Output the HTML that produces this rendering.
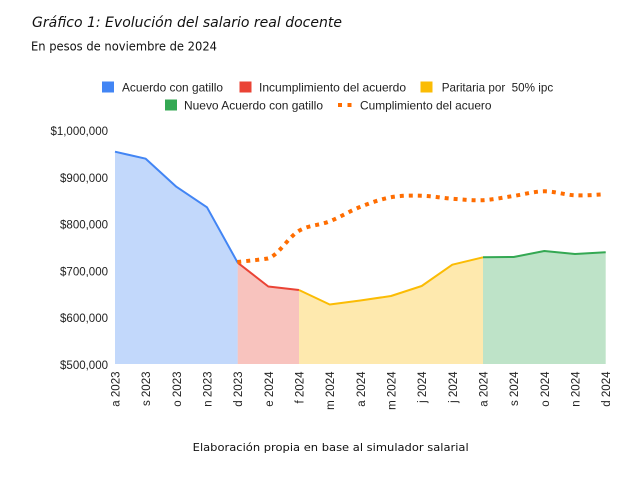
<!DOCTYPE html>
<html>
<head>
<meta charset="utf-8">
<style>
  html,body{margin:0;padding:0;background:#fff;}
  svg{display:block;}
  .ax{font-family:"Liberation Sans",Arial,sans-serif;font-size:11.5px;fill:#222;}
  .lg{font-family:"Liberation Sans",Arial,sans-serif;font-size:12px;fill:#222;}
  .dj{font-family:"DejaVu Sans","Liberation Sans",sans-serif;fill:#111;}
</style>
</head>
<body>
<svg width="636" height="498" viewBox="0 0 636 498" xmlns="http://www.w3.org/2000/svg">
  <rect x="0" y="0" width="636" height="498" fill="#fff"/>

  <!-- Title / subtitle -->
  <text class="dj" x="32" y="27" font-size="14.5" font-style="italic" textLength="310" lengthAdjust="spacingAndGlyphs">Gráfico 1: Evolución del salario real docente</text>
  <text class="dj" x="31" y="50.5" font-size="12" textLength="186" lengthAdjust="spacingAndGlyphs">En pesos de noviembre de 2024</text>

  <!-- Legend row 1 -->
  <rect x="102" y="81.5" width="12" height="11" fill="#4285f4"/>
  <text class="lg" x="122" y="91.5" textLength="101" lengthAdjust="spacingAndGlyphs">Acuerdo con gatillo</text>
  <rect x="239.5" y="81.5" width="12" height="11" fill="#ea4335"/>
  <text class="lg" x="259" y="91.5" textLength="147" lengthAdjust="spacingAndGlyphs">Incumplimiento del acuerdo</text>
  <rect x="420.5" y="81.5" width="12" height="11" fill="#fbbc04"/>
  <text class="lg" x="441.7" y="91.5" textLength="111.5" lengthAdjust="spacingAndGlyphs">Paritaria por&#160; 50% ipc</text>

  <!-- Legend row 2 -->
  <rect x="165" y="99.5" width="12" height="11" fill="#34a853"/>
  <text class="lg" x="184" y="109.5" textLength="139" lengthAdjust="spacingAndGlyphs">Nuevo Acuerdo con gatillo</text>
  <line x1="338" y1="105" x2="352" y2="105" stroke="#ff6d01" stroke-width="4" stroke-dasharray="4 5.5"/>
  <text class="lg" x="360" y="109.5" textLength="131.5" lengthAdjust="spacingAndGlyphs">Cumplimiento del acuero</text>

  <!-- Y axis labels -->
  <g class="ax" text-anchor="end">
    <text x="108" y="135">$1,000,000</text>
    <text x="108" y="182">$900,000</text>
    <text x="108" y="228.5">$800,000</text>
    <text x="108" y="275.5">$700,000</text>
    <text x="108" y="322">$600,000</text>
    <text x="108" y="369">$500,000</text>
  </g>

  <!-- Areas -->
  <path d="M115,364 L115,151.7 L145.7,158.7 L176.3,186.7 L207,207.3 L237.7,262.7 L237.7,364 Z" fill="#4285f4" fill-opacity="0.32"/>
  <path d="M237.7,364 L237.7,262.7 L268.3,286.5 L299,290 L299,364 Z" fill="#ea4335" fill-opacity="0.32"/>
  <path d="M299,364 L299,290 L329.7,304.5 L360.3,300.5 L391,296 L421.7,286 L452.3,264.7 L483,257.3 L483,364 Z" fill="#fbbc04" fill-opacity="0.32"/>
  <path d="M483,364 L483,257.3 L513.7,257 L544.3,251 L575,254 L605.7,252.3 L605.7,364 Z" fill="#34a853" fill-opacity="0.32"/>

  <!-- Lines -->
  <g fill="none" stroke-width="2" stroke-linejoin="round">
    <polyline points="115,151.7 145.7,158.7 176.3,186.7 207,207.3 237.7,262.7" stroke="#4285f4"/>
    <polyline points="237.7,262.7 268.3,286.5 299,290" stroke="#ea4335"/>
    <polyline points="299,290 329.7,304.5 360.3,300.5 391,296 421.7,286 452.3,264.7 483,257.3" stroke="#fbbc04"/>
    <polyline points="483,257.3 513.7,257 544.3,251 575,254 605.7,252.3" stroke="#34a853"/>
  </g>

  <!-- Dotted smooth line -->
  <path d="M237.3,262 C242.4,261.4 257.8,260 268,258.5
           C278.2,255.5 288.4,237.17 298.6,231
           C308.8,224.83 319.1,225.5 329.3,221.5
           C339.5,217.5 349.8,211.03 360,207
           C370.2,202.97 380.4,199.18 390.6,197.3
           C400.8,195.42 411.1,195.47 421.3,195.7
           C431.5,195.93 441.8,197.95 452,198.7
           C462.2,199.45 472.5,200.65 482.7,200.2
           C492.9,199.75 503.1,197.48 513.3,196
           C523.5,194.52 533.8,191.42 544,191.3
           C554.2,191.18 564.5,194.8 574.7,195.3
           C584.9,195.8 600.2,194.47 605.3,194.3"
        fill="none" stroke="#ff6d01" stroke-width="4" stroke-dasharray="4 5"/>

  <!-- X axis labels (rotated) -->
  <g class="ax" font-size="11" text-anchor="end">
    <text transform="translate(119.5,371.5) rotate(-90)">a 2023</text>
    <text transform="translate(150.2,371.5) rotate(-90)">s 2023</text>
    <text transform="translate(180.8,371.5) rotate(-90)">o 2023</text>
    <text transform="translate(211.5,371.5) rotate(-90)">n 2023</text>
    <text transform="translate(242.2,371.5) rotate(-90)">d 2023</text>
    <text transform="translate(272.8,371.5) rotate(-90)">e 2024</text>
    <text transform="translate(303.5,371.5) rotate(-90)">f 2024</text>
    <text transform="translate(334.2,371.5) rotate(-90)">m 2024</text>
    <text transform="translate(364.8,371.5) rotate(-90)">a 2024</text>
    <text transform="translate(395.5,371.5) rotate(-90)">m 2024</text>
    <text transform="translate(426.2,371.5) rotate(-90)">j 2024</text>
    <text transform="translate(456.8,371.5) rotate(-90)">j 2024</text>
    <text transform="translate(487.5,371.5) rotate(-90)">a 2024</text>
    <text transform="translate(518.2,371.5) rotate(-90)">s 2024</text>
    <text transform="translate(548.8,371.5) rotate(-90)">o 2024</text>
    <text transform="translate(579.5,371.5) rotate(-90)">n 2024</text>
    <text transform="translate(610.2,371.5) rotate(-90)">d 2024</text>
  </g>

  <!-- Footer -->
  <text class="dj" x="192.7" y="451" font-size="11" textLength="276" lengthAdjust="spacingAndGlyphs">Elaboración propia en base al simulador salarial</text>
</svg>
</body>
</html>
